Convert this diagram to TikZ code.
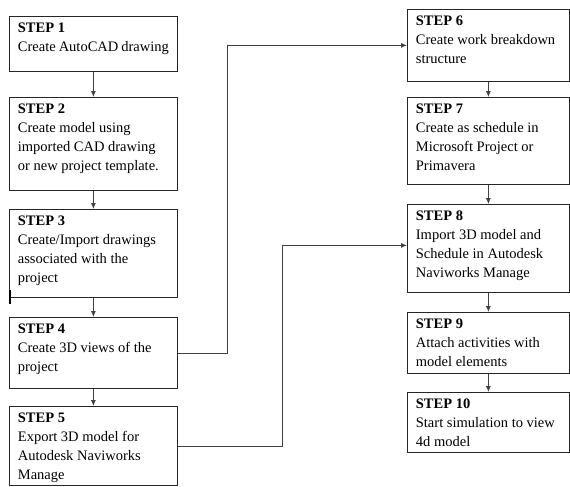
\documentclass[tikz,border=0pt]{standalone}
\usepackage{fontspec}
\setmainfont{Liberation Serif}
\usetikzlibrary{arrows.meta}

\newcommand{\steptext}[4][151]{\parbox[c][#2pt][t]{#1pt}{\raggedright\hbadness=10000\hfuzz=50pt\vspace*{6.5pt}\textbf{STEP #3}\\#4}}

\tikzset{
	stepbox/.style={draw=black!85, line width=0.8pt, anchor=north west,
		inner xsep=8.5pt, inner ysep=0pt, font=\fontsize{14.5}{19}\selectfont},
	flow/.style={draw=black!75, line width=0.8pt, -{Latex[length=6pt,width=5pt]}}
}

\begin{document}
\begin{tikzpicture}[x=1pt,y=-1pt]
			\useasboundingbox (0,0) rectangle (570,487);
			% left column
			\node[stepbox] (s1) at (9,16) {\steptext{55}{1}{Create~AutoCAD~drawing}};
			\node[stepbox] (s2) at (9,97) {\steptext{93}{2}{Create model using\\imported CAD drawing\\or new project template.}};
			\node[stepbox] (s3) at (9,209) {\steptext{88}{3}{Create/Import drawings\\associated with the\\project}};
			\node[stepbox] (s4) at (9,317) {\steptext{71}{4}{Create 3D views of the\\project}};
			\node[stepbox] (s5) at (9,406) {\steptext{79}{5}{Export 3D model for\\Autodesk Naviworks\\Manage}};
			% right column
			\node[stepbox] (s6) at (407,9) {\steptext[145]{72}{6}{Create~work~breakdown\\structure}};
			\node[stepbox] (s7) at (407,97) {\steptext[145]{87}{7}{Create as schedule in\\Microsoft Project or\\Primavera}};
			\node[stepbox] (s8) at (407,204) {\steptext[145]{88}{8}{Import 3D model and\\Schedule in Autodesk\\Naviworks Manage}};
			\node[stepbox] (s9) at (407,312) {\steptext[145]{61}{9}{Attach activities with\\model elements}};
			\node[stepbox] (s10) at (407,392) {\steptext[145]{60}{10}{Start~simulation~to~view\\4d model}};
			% arrows
			\draw[flow] (s1) -- (s2);
			\draw[flow] (s2) -- (s3);
			\draw[flow] (s3) -- (s4);
			\draw[flow] (s4) -- (s5);
			\draw[flow] (s6) -- (s7);
			\draw[flow] (s7) -- (s8);
			\draw[flow] (s8) -- (s9);
			\draw[flow] (s9) -- (s10);
			\draw[flow] (s4.east) -- ++(50,0) |- (s6.west);
			\draw[flow] (s5.east) -- ++(105,0) |- ([yshift=3pt]s8.west);
			\draw[line width=1.3pt] (10,290) -- (10,304);
		\end{tikzpicture}
\end{document}
